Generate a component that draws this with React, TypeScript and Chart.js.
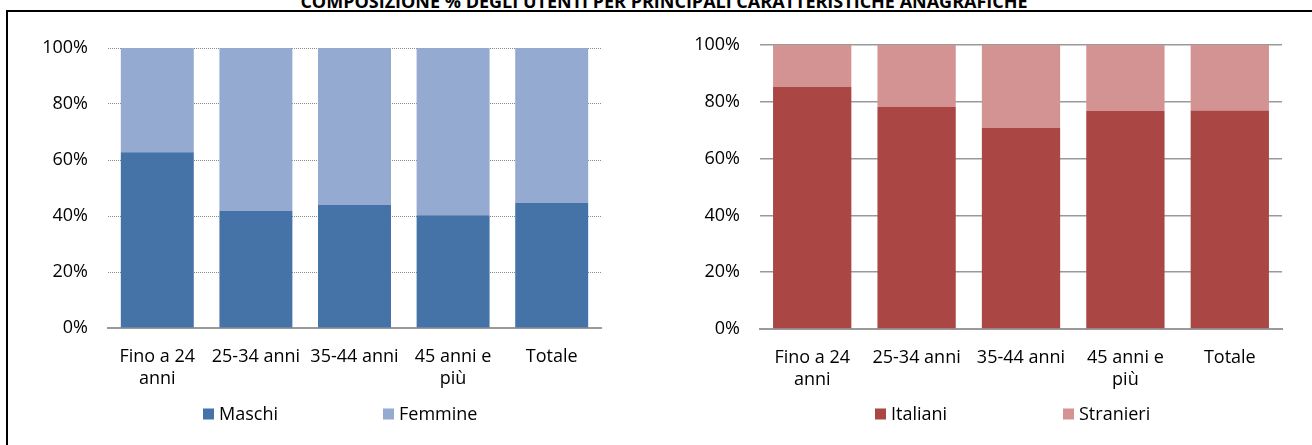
import React, { useEffect, useRef } from "react";
import { Chart, registerables } from "chart.js";

Chart.register(...registerables);

const titleText = "COMPOSIZIONE % DEGLI UTENTI PER PRINCIPALI CARATTERISTICHE ANAGRAFICHE";
const categories: (string | string[])[] = [["Fino a 24", "anni"], "25-34 anni", "35-44 anni", ["45 anni e", "più"], "Totale"];
const maschi = [62.8, 41.8, 43.9, 40.3, 44.7];
const femmine = [37.2, 58.2, 56.1, 59.7, 55.3];
const italiani = [85.2, 78.2, 70.8, 76.8, 76.9];
const stranieri = [14.8, 21.8, 29.2, 23.2, 23.1];
const yMin = 0;
const yMax = 100;
const yStep = 20;

const FONT_FAMILY = "'Open Sans', 'DejaVu Sans', sans-serif";
const FONT_SIZE = 18;

const slotLegend = {
  id: "slotLegend",
  afterDraw(chart: any, _args: any, opts: any) {
    const ctx = chart.ctx;
    ctx.save();
    ctx.font = `${FONT_SIZE}px ${FONT_FAMILY}`;
    ctx.textBaseline = "middle";
    ctx.textAlign = "left";
    chart.data.datasets.forEach((ds: any, i: number) => {
      const x = opts.x + i * opts.slot;
      ctx.fillStyle = ds.backgroundColor;
      ctx.fillRect(x, opts.y - opts.box / 2, opts.box, opts.box);
      ctx.fillStyle = "#000";
      ctx.fillText(ds.label, x + opts.box + opts.gap, opts.y + 1);
    });
    ctx.restore();
  },
};

function makeConfig(
  series: { label: string; data: number[]; color: string }[],
  o: { padL: number; padR: number; padT: number; xH: number; dotted: boolean; barPct: number; legend: any }
): any {
  return {
    type: "bar",
    data: {
      labels: categories,
      datasets: series.map((s) => ({
        label: s.label,
        data: s.data,
        backgroundColor: s.color,
        borderWidth: 0,
        categoryPercentage: 1,
        barPercentage: o.barPct,
      })),
    },
    plugins: [slotLegend],
    options: {
      responsive: false,
      animation: false,
      devicePixelRatio: 1,
      layout: { padding: { left: o.padL, right: o.padR, top: o.padT, bottom: 0 } },
      plugins: {
        legend: { display: false },
        tooltip: { enabled: false },
        title: { display: false },
        slotLegend: o.legend,
      },
      scales: {
        x: {
          stacked: true,
          z: 1,
          grid: { display: false },
          border: { display: true, color: "#9a9a9a", width: 2 },
          ticks: {
            color: "#000",
            font: { family: FONT_FAMILY, size: FONT_SIZE, lineHeight: 1.2 },
            padding: 10,
            autoSkip: false,
            maxRotation: 0,
            minRotation: 0,
          },
          afterFit(scale: any) {
            scale.height = o.xH;
          },
        },
        y: {
          stacked: true,
          min: yMin,
          max: yMax,
          grid: {
            drawTicks: false,
            color: (c: any) => (c.tick && c.tick.value === 0 ? "rgba(0,0,0,0)" : o.dotted ? "#8a8a8a" : "#9a9a9a"),
            lineWidth: o.dotted ? 1 : 1.5,
          },
          border: { display: false, dash: o.dotted ? [1, 1] : [] },
          ticks: {
            stepSize: yStep,
            color: "#000",
            padding: 20,
            font: { family: FONT_FAMILY, size: FONT_SIZE },
            callback: (v: any) => v + "%",
          },
          afterFit(scale: any) {
            scale.width = 100;
          },
        },
      },
    },
  };
}

function ChartCanvas({ config, left, width }: { config: any; left: number; width: number }) {
  const ref = useRef<HTMLCanvasElement | null>(null);
  useEffect(() => {
    if (!ref.current) return;
    const chart = new Chart(ref.current, config);
    return () => chart.destroy();
  }, []);
  return (
    <canvas
      ref={ref}
      width={width}
      height={445}
      style={{ position: "absolute", left, top: 0, width, height: 445 }}
    />
  );
}

export default function App() {
  const leftCfg = makeConfig(
    [
      { label: "Maschi", data: maschi, color: "#4573a7" },
      { label: "Femmine", data: femmine, color: "#95aad0" },
    ],
    { padL: 8, padR: 49, padT: 48, xH: 117, dotted: true, barPct: 0.74, legend: { x: 203, y: 414, slot: 180, box: 11, gap: 5 } }
  );
  const rightCfg = makeConfig(
    [
      { label: "Italiani", data: italiani, color: "#aa4744" },
      { label: "Stranieri", data: stranieri, color: "#d39392" },
    ],
    { padL: 10, padR: 30, padT: 45, xH: 116, dotted: false, barPct: 0.75, legend: { x: 225, y: 414, slot: 188, box: 11, gap: 5 } }
  );
  return (
    <div
      style={{
        position: "fixed",
        left: 0,
        top: 0,
        width: 1312,
        height: 445,
        overflow: "hidden",
        background: "#fff",
      }}
    >
      <div
        style={{
          position: "absolute",
          left: 6,
          top: 10,
          width: 2000,
          height: 2000,
          borderLeft: "2px solid #000",
          borderTop: "2px solid #000",
        }}
      />
      <div
        style={{
          position: "absolute",
          left: 8,
          top: -8,
          width: 1312,
          textAlign: "center",
          fontFamily: FONT_FAMILY,
          fontWeight: 700,
          fontSize: 18,
          lineHeight: "18px",
          whiteSpace: "nowrap",
        }}
      >
        {titleText}
      </div>
      <ChartCanvas config={leftCfg} left={0} width={650} />
      <ChartCanvas config={rightCfg} left={650} width={662} />
    </div>
  );
}
